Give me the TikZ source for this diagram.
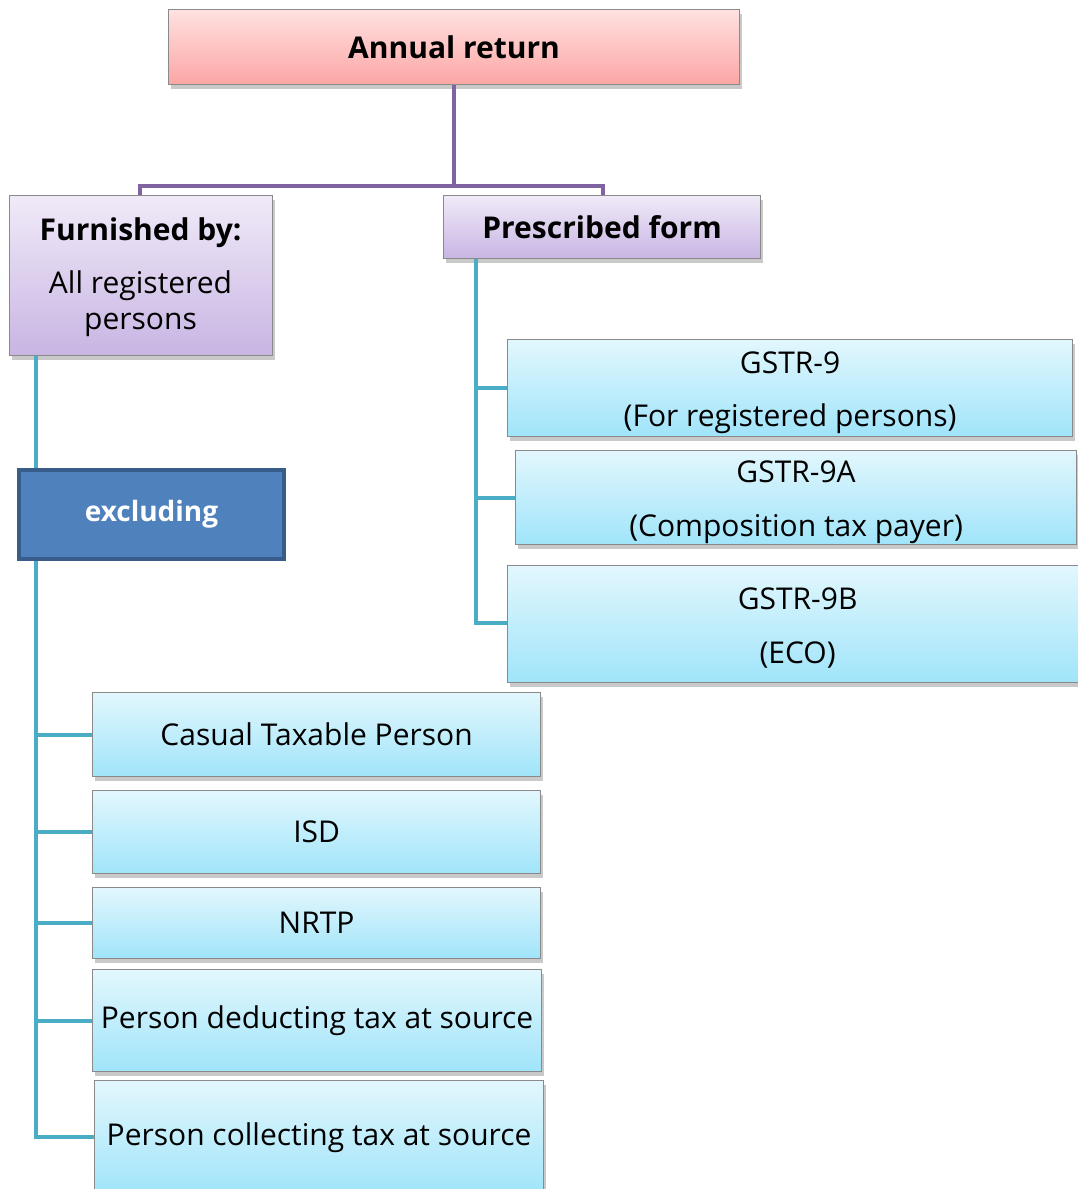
\documentclass[tikz,border=0pt]{standalone}
\usepackage{fontspec}
\setmainfont{Open Sans}
\usetikzlibrary{shadows}
\definecolor{pinkT}{HTML}{FFE1E1}
\definecolor{pinkB}{HTML}{FBA6A4}
\definecolor{purT}{HTML}{F0EAF8}
\definecolor{purB}{HTML}{C8B5E3}
\definecolor{bluT}{HTML}{E2F7FD}
\definecolor{bluB}{HTML}{A0E4FA}
\definecolor{exclFill}{HTML}{4F81BD}
\definecolor{exclDraw}{HTML}{385D8A}
\definecolor{purLine}{HTML}{8064A2}
\definecolor{tealLine}{HTML}{4BACC6}
\definecolor{edgeGray}{HTML}{8A8A8A}
\newcommand{\dnstrut}{\rule{0pt}{30pt}}
\tikzset{
  base/.style={rectangle, inner sep=0pt, anchor=north west, draw=edgeGray, line width=1.2pt,
    align=center, font=\fontsize{30}{37}\selectfont,
    drop shadow={shadow xshift=2pt, shadow yshift=-4pt, opacity=0.35, fill=black!60}},
  pinkbox/.style={base, top color=pinkT, bottom color=pinkB},
  purbox/.style={base, top color=purT, bottom color=purB},
  blubox/.style={base, top color=bluT, bottom color=bluB},
  lbl/.style={font=\fontsize{30}{37}\selectfont},
  exclbox/.style={rectangle, inner sep=0pt, anchor=north west, fill=exclFill, draw=exclDraw,
    line width=4pt, text=white, font=\fontsize{28}{33}\selectfont\bfseries},
  purconn/.style={draw=purLine, line width=4pt},
  tealconn/.style={draw=tealLine, line width=4pt},
}
\begin{document}
\begin{tikzpicture}[x=1pt,y=-1pt]
\useasboundingbox (0,0) rectangle (1078,1189);
\clip (0,0) rectangle (1078,1189);
\fill[white] (0,0) rectangle (1078,1189);

\coordinate (pj) at (454,186);
\coordinate (pl) at (140,186);
\coordinate (pr) at (603,186);
\coordinate (lt) at (36,355);
\coordinate (lb) at (36,1137);
\coordinate (rt) at (476,258);
\coordinate (rb) at (476,623);

\node[pinkbox, minimum width=571, minimum height=75] (ar) at (168,9) {\bfseries Annual return};
\node[purbox, minimum width=263, minimum height=160] (fb) at (9,195) {};
\node[lbl, font=\fontsize{30}{37}\selectfont\bfseries] (fbt) at (140.5,233) {Furnished by:};
\node[lbl] (fb1) at (140.5,286) {All registered};
\node[lbl] (fb2) at (140.5,325) {persons};
\node[purbox, minimum width=317, minimum height=63] (pf) at (443,195) {\bfseries Prescribed form};
\node[exclbox, minimum width=265, minimum height=89] (ex) at (17,468) {excluding};

\node[blubox, minimum width=565, minimum height=97] (g9) at (507,339) {\dnstrut GSTR-9\\[16pt](For registered persons)};
\node[blubox, minimum width=561, minimum height=94] (g9a) at (515,450) {\dnstrut GSTR-9A\\[17pt](Composition tax payer)};
\node[blubox, minimum width=580, minimum height=117] (g9b) at (507,565) {\dnstrut GSTR-9B\\[17pt](ECO)};

\node[blubox, minimum width=448, minimum height=84] (ctp) at (92,692) {Casual Taxable Person};
\node[blubox, minimum width=448, minimum height=83] (isd) at (92,790) {ISD};
\node[blubox, minimum width=448, minimum height=71] (nrtp) at (92,887) {NRTP};
\node[blubox, minimum width=449, minimum height=102] (pdt) at (92,969) {Person deducting tax at source};
\node[blubox, minimum width=449, minimum height=114] (pct) at (94,1080) {Person collecting tax at source};

% purple connectors
\draw[purconn] (ar.south -| pj) -- (pj);
\draw[purconn] (pl |- fb.north) -- (pl) -- (pr) -- (pr |- pf.north);

% teal connectors, left
\draw[tealconn] (fb.south -| lt) -- (ex.north -| lt);
\draw[tealconn] (ex.south -| lt) -- (lb) -- (pct.west |- lb);
\draw[tealconn] (ctp.west -| lt) -- (ctp.west);
\draw[tealconn] (isd.west -| lt) -- (isd.west);
\draw[tealconn] (nrtp.west -| lt) -- (nrtp.west);
\draw[tealconn] (pdt.west -| lt) -- (pdt.west);

% teal connectors, right
\draw[tealconn] (pf.south -| rt) -- (rb) -- (g9b.west |- rb);
\draw[tealconn] (g9.west -| rt) -- (g9.west);
\draw[tealconn] (g9a.west -| rt) -- (g9a.west);
\end{tikzpicture}
\end{document}
